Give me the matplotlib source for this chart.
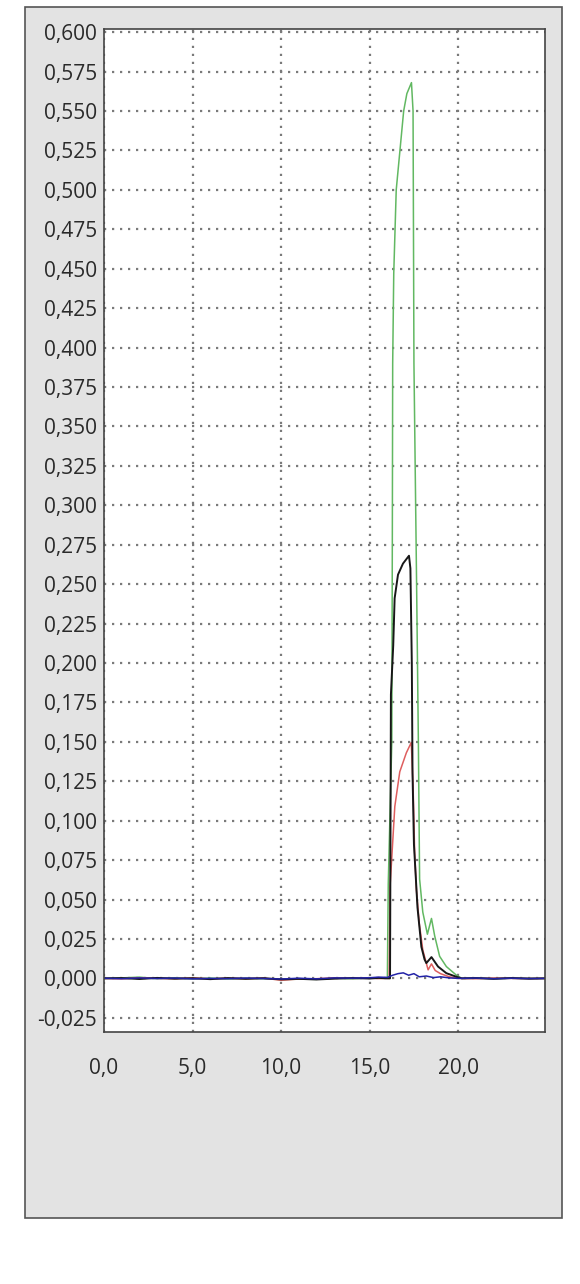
import numpy as np
import matplotlib.pyplot as plt
import matplotlib as mpl
from matplotlib.patches import Rectangle

# %%
# Data (time, signal)
timeGreen = [0, 1, 2, 3, 4, 5, 6, 7, 8, 9, 10, 11, 12, 13, 14, 15, 15.5, 16.0,
             16.05, 16.25, 16.28, 16.3, 16.36, 16.5, 16.92, 17.1, 17.36, 17.45,
             17.5, 17.65, 17.75, 17.82, 18.0, 18.26, 18.49, 18.67, 18.95, 19.33,
             19.9, 20.2, 21, 22, 23, 24, 25]
sigGreen = [0.0, 0.0003, 0.0008, -0.0002, 0.0004, -0.0003, 0.0002, -0.0004, 0.0001,
            -0.0002, -0.0008, -0.0005, -0.0006, 0.0002, -0.0003, 0.0004, 0.0001, 0.0,
            0.06, 0.15, 0.28, 0.39, 0.447, 0.5, 0.55, 0.561, 0.568, 0.55,
            0.39, 0.25, 0.15, 0.063, 0.042, 0.028, 0.038, 0.027, 0.014, 0.0075,
            0.002, 0.0, 0.0003, -0.0002, 0.0002, 0.0, 0.0001]

timeRed = [0, 1, 2, 3, 4, 5, 6, 7, 8, 9, 10, 11, 12, 13, 14, 15, 15.5, 16.1,
           16.15, 16.42, 16.7, 17.07, 17.35, 17.45, 17.54, 17.64, 17.8, 18.0,
           18.3, 18.49, 18.7, 19.0, 19.5, 20.0, 21, 22, 23, 24, 25]
sigRed = [0.0, -0.0003, 0.0004, 0.0, -0.0002, 0.0003, -0.0003, 0.0001, -0.0002,
          0.0002, -0.0012, -0.0004, -0.0002, 0.0003, 0.0, 0.0002, -0.0001, 0.0,
          0.058, 0.109, 0.131, 0.143, 0.1496, 0.122, 0.08, 0.056, 0.035, 0.018,
          0.0054, 0.0092, 0.005, 0.003, 0.001, 0.0, -0.0002, 0.0002, 0.0, -0.0001, 0.0]

timeBlack = [0, 1, 2, 3, 4, 5, 6, 7, 8, 9, 10, 11, 12, 13, 14, 15, 15.5, 16.15,
             16.2, 16.33, 16.41, 16.6, 16.88, 17.22, 17.3, 17.38, 17.42, 17.5,
             17.7, 17.92, 18.1, 18.2, 18.49, 18.86, 19.33, 19.9, 20.2, 21, 22,
             23, 24, 25]
sigBlack = [0.0, 0.0002, -0.0004, 0.0003, -0.0002, 0.0001, -0.0005, 0.0002, -0.0003,
            0.0001, -0.0006, -0.0003, -0.0007, -0.0002, 0.0002, -0.0001, 0.0003, 0.0,
            0.18, 0.211, 0.241, 0.256, 0.263, 0.268, 0.26, 0.2, 0.13, 0.085,
            0.045, 0.02, 0.012, 0.0097, 0.0135, 0.0075, 0.0033, 0.001, 0.0, 0.0002,
            -0.0003, 0.0002, -0.0002, 0.0]

timeBlue = [0, 1, 2, 3, 4, 5, 6, 7, 8, 9, 10, 11, 12, 13, 14, 15, 15.5, 16.0,
            16.3, 16.6, 16.9, 17.2, 17.5, 17.8, 18.2, 18.6, 19.0, 19.5, 20, 21,
            22, 23, 24, 25]
sigBlue = [0.0001, -0.0002, 0.0003, -0.0001, 0.0002, -0.0003, 0.0, -0.0002, 0.0002,
           -0.0001, -0.0004, 0.0001, -0.0003, 0.0003, 0.0001, 0.0004, 0.0008, 0.0006,
           0.002, 0.003, 0.0035, 0.002, 0.003, 0.001, 0.0015, 0.0005, 0.001, 0.0003,
           0.0, 0.0002, -0.0002, 0.0001, -0.0001, 0.0]

xTicks = [0, 5, 10, 15, 20]
xLabels = ['0,0', '5,0', '10,0', '15,0', '20,0']
yTicks = [-0.025, 0.000, 0.025, 0.050, 0.075, 0.100, 0.125, 0.150, 0.175, 0.200,
          0.225, 0.250, 0.275, 0.300, 0.325, 0.350, 0.375, 0.400, 0.425, 0.450,
          0.475, 0.500, 0.525, 0.550, 0.575, 0.600]
yLabels = ['{:.3f}'.format(v).replace('.', ',') for v in yTicks]

################################################################################
# %%
plt.rc('font', family=['Open Sans', 'DejaVu Sans'])

# colors
cGreen = '#62b862'
cRed = '#de5e5e'
cBlack = '#181818'
cBlue = '#2222a6'
cGrid = '#7a7a7a'
cText = '#2a2a2a'

fsize = 15

fig1 = plt.figure(figsize=(5.8, 12.84), dpi=100)
fig1.patch.set_facecolor('white')

# gray panel behind the plot
panel = Rectangle((25 / 580, 1 - 1218 / 1284), 537 / 580, 1211 / 1284,
                  transform=fig1.transFigure, facecolor='#e3e3e3',
                  edgecolor='#555555', linewidth=1.2, zorder=-1)
fig1.patches.append(panel)

ax = fig1.add_axes([104 / 580, 1 - 1032 / 1284, 441 / 580, 1003 / 1284])
ax.set_zorder(2)
ax.set_facecolor('white')

ax.plot(timeGreen, sigGreen, '-', color=cGreen, linewidth=1.1)
ax.plot(timeRed, sigRed, '-', color=cRed, linewidth=1.1)
ax.plot(timeBlack, sigBlack, '-', color=cBlack, linewidth=1.4)
ax.plot(timeBlue, sigBlue, '-', color=cBlue, linewidth=1.1)

ax.set_xlim(0, 24.9)
ax.set_ylim(-0.034, 0.602)
ax.set_xticks(xTicks)
ax.set_xticklabels(xLabels)
ax.set_yticks(yTicks)
ax.set_yticklabels(yLabels)
ax.tick_params(axis='both', length=0, labelsize=fsize, labelcolor=cText)
ax.tick_params(axis='x', pad=19)
ax.tick_params(axis='y', pad=5)

ax.grid(True, color=cGrid, linestyle=(0, (1, 2.6)), linewidth=1.6)
ax.set_axisbelow(True)
for s in ax.spines.values():
    s.set_color('#444444')
    s.set_linewidth(1.2)

plt.savefig('out.png', dpi=100)
plt.close()
